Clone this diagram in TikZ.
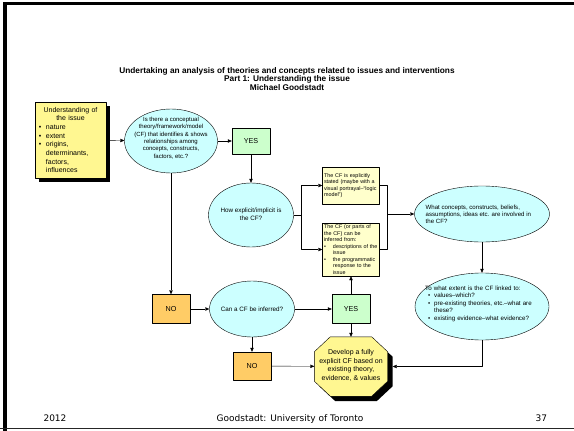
\documentclass[tikz,border=0pt]{standalone}
\usepackage{fontspec}
\setmainfont{Liberation Sans}
\newfontfamily\footfont{DejaVu Sans}
\usetikzlibrary{shapes.geometric,shadows,arrows.meta}
\definecolor{ellcol}{RGB}{204,255,255}
\definecolor{yescol}{RGB}{204,255,204}
\definecolor{nocol}{RGB}{255,204,102}
\definecolor{cfcol}{RGB}{255,255,204}
\definecolor{issuecol}{RGB}{255,247,145}
\newcommand{\fsz}[2]{\fontsize{#1}{#2}\selectfont}
\newcommand{\bitem}[2]{\par\noindent\hangindent=#1\hangafter=1\makebox[#1][l]{\hspace{#2}\textbullet}}
\begin{document}
\begin{tikzpicture}[x=1pt, y=-1pt, line join=round, >={Triangle[length=4pt,width=3.4pt]}]
			\tikzset{every node/.style={font=\fsz{6}{7.3}},
				ell/.style={ellipse, draw, thin, fill=ellcol, inner sep=0pt},
				etxt/.style={inner sep=0pt, align=center},
				yesbox/.style={draw, thin, fill=yescol, minimum width=\bw, minimum height=\bh, font=\fsz{7.2}{8}},
				nobox/.style={yesbox, fill=nocol},
				cfbox/.style={draw, thin, fill=cfcol, text width=54pt, inner xsep=1.5pt, inner ysep=1pt, align=left, font=\fsz{5.4}{6.5}},
				sdw/.style={drop shadow={shadow xshift=#1, shadow yshift=-#1, fill=black, opacity=1}}}
			\def\bw{38pt} \def\bh{29pt} \def\cx{16pt} \def\cy{15pt}
			\useasboundingbox (0,0) rectangle (574,431);
			% frame of the slide
			\fill[black] (2.5,2) rectangle (6.5,431);
			\fill[black] (2.5,2) rectangle (574,4.8);
			\draw[line width=1.2pt, black!85] (0,428.6) -- (574,428.6);
			\node[etxt, font=\bfseries\fsz{8.3}{8.8}] (title) at (287,79)
				{Undertaking an analysis of theories and concepts related to issues and interventions\\
				Part 1: Understanding the issue\\Michael Goodstadt};
			% first row
			\node[draw, thin, fill=issuecol, sdw=4pt, text width=66pt, inner xsep=2.5pt, minimum height=76pt, align=left, font=\fsz{7}{8.7}] (issue) at (70.5,140)
				{{\centering Understanding of\\the issue\par}\raggedright
				\bitem{8.5pt}{1.5pt}nature\bitem{8.5pt}{1.5pt}extent\bitem{8.5pt}{1.5pt}origins,\newline determinants,\newline factors,\newline influences\par};
			\node[ell, minimum width=93pt, minimum height=64pt] (cfq) at (171,141) {};
			\node[etxt] (cfqt) at (171,138) {Is there a conceptual\\theory/framework/model\\(CF) that identifies \& shows\\relationships among\\concepts, constructs,\\factors, etc.?};
			\node[yesbox, minimum height=26pt] (yesA) at (251,141) {YES};
			% second row
			\node[ell, minimum width=85pt, minimum height=64pt] (howq) at (251,215) {};
			\node[etxt, font=\fsz{6.3}{7.6}] (howqt) at (251,214.5) {How explicit/implicit is\\the CF?};
			\coordinate (jl) at (301,215);
			\node[cfbox, minimum height=37pt] (expl) at (351,185.5)
				{The CF is explicitly\newline stated (maybe with a\newline visual portrayal--“logic\newline model”)\par};
			\node[cfbox, minimum height=53pt] (infer) at (351,249.5)
				{The CF (or parts of\newline the CF) can be\newline inferred from:\bitem{9pt}{0pt}descriptions of the\newline issue\bitem{9pt}{0pt}the programmatic\newline response to the\newline issue\par};
			\coordinate (jr) at (387,214);
			\node[ell, minimum width=135pt, minimum height=56pt] (whatq) at (482,214) {};
			\node[etxt, align=left, anchor=west, font=\fsz{6.1}{7.1}] (whatqt) at (425.5,214)
				{What concepts, constructs, beliefs,\\assumptions, ideas etc. are involved in\\the CF?};
			\node[ell, minimum width=134pt, minimum height=67pt] (extq) at (482,306.5) {};
			\node[etxt, align=left, anchor=west, text width=110pt, font=\fsz{6.2}{7.5}] (extqt) at (425,303.5)
				{To what extent is the CF linked to:\bitem{9pt}{3pt}values--which?\bitem{9pt}{3pt}pre-existing theories, etc.--what are\newline these?\bitem{9pt}{3pt}existing evidence--what evidence?\par};
			% third row
			\node[nobox] (noA) at (171,309) {NO};
			\node[ell, minimum width=85pt, minimum height=56pt] (canq) at (252,309) {};
			\node[etxt, font=\fsz{6.3}{7.6}] (canqt) at (252,309) {Can a CF be inferred?};
			\node[yesbox] (yesB) at (351,309) {YES};
			% bottom row
			\node[nobox, minimum height=28pt] (noB) at (252,366) {NO};
			\node[minimum width=73pt, minimum height=59pt, inner sep=0pt] (dev) at (351,366.5) {};
			\path[draw, thin, fill=issuecol, sdw=5pt] ([xshift=\cx]dev.north west) -- ([xshift=-\cx]dev.north east)
				-- ([yshift=-\cy]dev.north east) -- ([yshift=\cy]dev.south east) -- ([xshift=-\cx]dev.south east)
				-- ([xshift=\cx]dev.south west) -- ([yshift=\cy]dev.south west) -- ([yshift=-\cy]dev.north west) -- cycle;
			\node[etxt, font=\fsz{7}{8.6}] (devt) at (351,365.5) {Develop a fully\\explicit CF based on\\existing theory,\\evidence, \& values};
			% connectors
			\draw[->] (issue) -- (cfq);
			\draw[->] (cfq) -- (yesA);
			\draw[->] (yesA) -- (howq);
			\draw (howq) -- (jl);
			\draw[->] (jl) |- (expl);
			\draw[->] (jl) |- (infer);
			\draw (expl) -| (jr);
			\draw (infer) -| (jr);
			\draw[->] (jr) -- (whatq);
			\draw[->] (whatq) -- (extq);
			\draw[->] (cfq) -- (noA);
			\draw[->] (noA) -- (canq);
			\draw[->] (canq) -- (yesB);
			\draw[->] (yesB) -- (infer);
			\draw[->] (yesB) -- (dev);
			\draw[->] (canq) -- (noB);
			\draw[->] (noB) -- (dev);
			\draw[->, shorten >=5pt] (extq) |- (dev);
			% footer
			\node[font=\footfont\fsz{9}{10}, anchor=base west] (year) at (40,421.5) {2012};
			\node[font=\footfont\fsz{9}{10}, anchor=base] (org) at (290,421.5) {Goodstadt: University of Toronto};
			\node[font=\footfont\fsz{9}{10}, anchor=base west] (page) at (532,421.5) {37};
		\end{tikzpicture}
\end{document}
